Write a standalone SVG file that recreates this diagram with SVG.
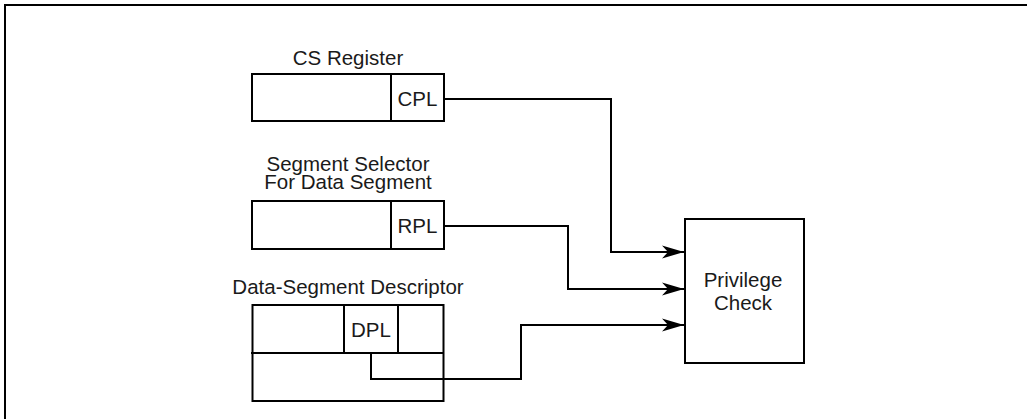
<svg xmlns="http://www.w3.org/2000/svg" width="1027" height="419" viewBox="0 0 1027 419">
<style>
.b{fill:#fff;stroke:#000;stroke-width:2}
.l{fill:none;stroke:#000;stroke-width:2}
.t{font-family:"Liberation Sans",Arial,sans-serif;font-size:20.5px;fill:#1a1a1a;text-anchor:middle}
</style>
<defs>
<marker id="ah" markerWidth="24" markerHeight="14" refX="22" refY="7" orient="auto" markerUnits="userSpaceOnUse">
<path d="M22,7 L0,0.5 L6,7 L0,13.5 Z" fill="#000"/>
</marker>
</defs>
<rect x="0" y="0" width="1027" height="419" fill="#fff"/>
<path class="l" d="M5,425 V5 H1035"/>
<g id="cs-register">
<text class="t" x="348" y="65">CS Register</text>
<rect class="b" x="252" y="74" width="192" height="47"/>
<line class="l" x1="391" y1="74" x2="391" y2="121"/>
<text class="t" x="417.5" y="106">CPL</text>
</g>
<g id="segment-selector">
<text class="t" x="348" y="171">Segment Selector</text>
<text class="t" x="348" y="189">For Data Segment</text>
<rect class="b" x="252" y="201" width="192" height="48"/>
<line class="l" x1="391" y1="201" x2="391" y2="249"/>
<text class="t" x="417.5" y="233">RPL</text>
</g>
<g id="data-segment-descriptor">
<text class="t" x="348" y="294">Data-Segment Descriptor</text>
<rect class="b" x="252.5" y="305" width="191" height="96"/>
<line class="l" x1="251" y1="353" x2="444" y2="353"/>
<line class="l" x1="344" y1="305" x2="344" y2="353"/>
<line class="l" x1="398" y1="305" x2="398" y2="353"/>
<text class="t" x="371" y="337">DPL</text>
</g>
<g id="privilege-check">
<rect class="b" x="685" y="219" width="119" height="144"/>
<text class="t" x="743" y="287">Privilege</text>
<text class="t" x="743" y="310">Check</text>
</g>
<g id="connectors">
<polyline class="l" points="444,99 611,99 611,252 684,252" marker-end="url(#ah)"/>
<polyline class="l" points="444,226 568,226 568,289 684,289" marker-end="url(#ah)"/>
<polyline class="l" points="371,353 371,379 521,379 521,325 684,325" marker-end="url(#ah)"/>
</g>
</svg>
